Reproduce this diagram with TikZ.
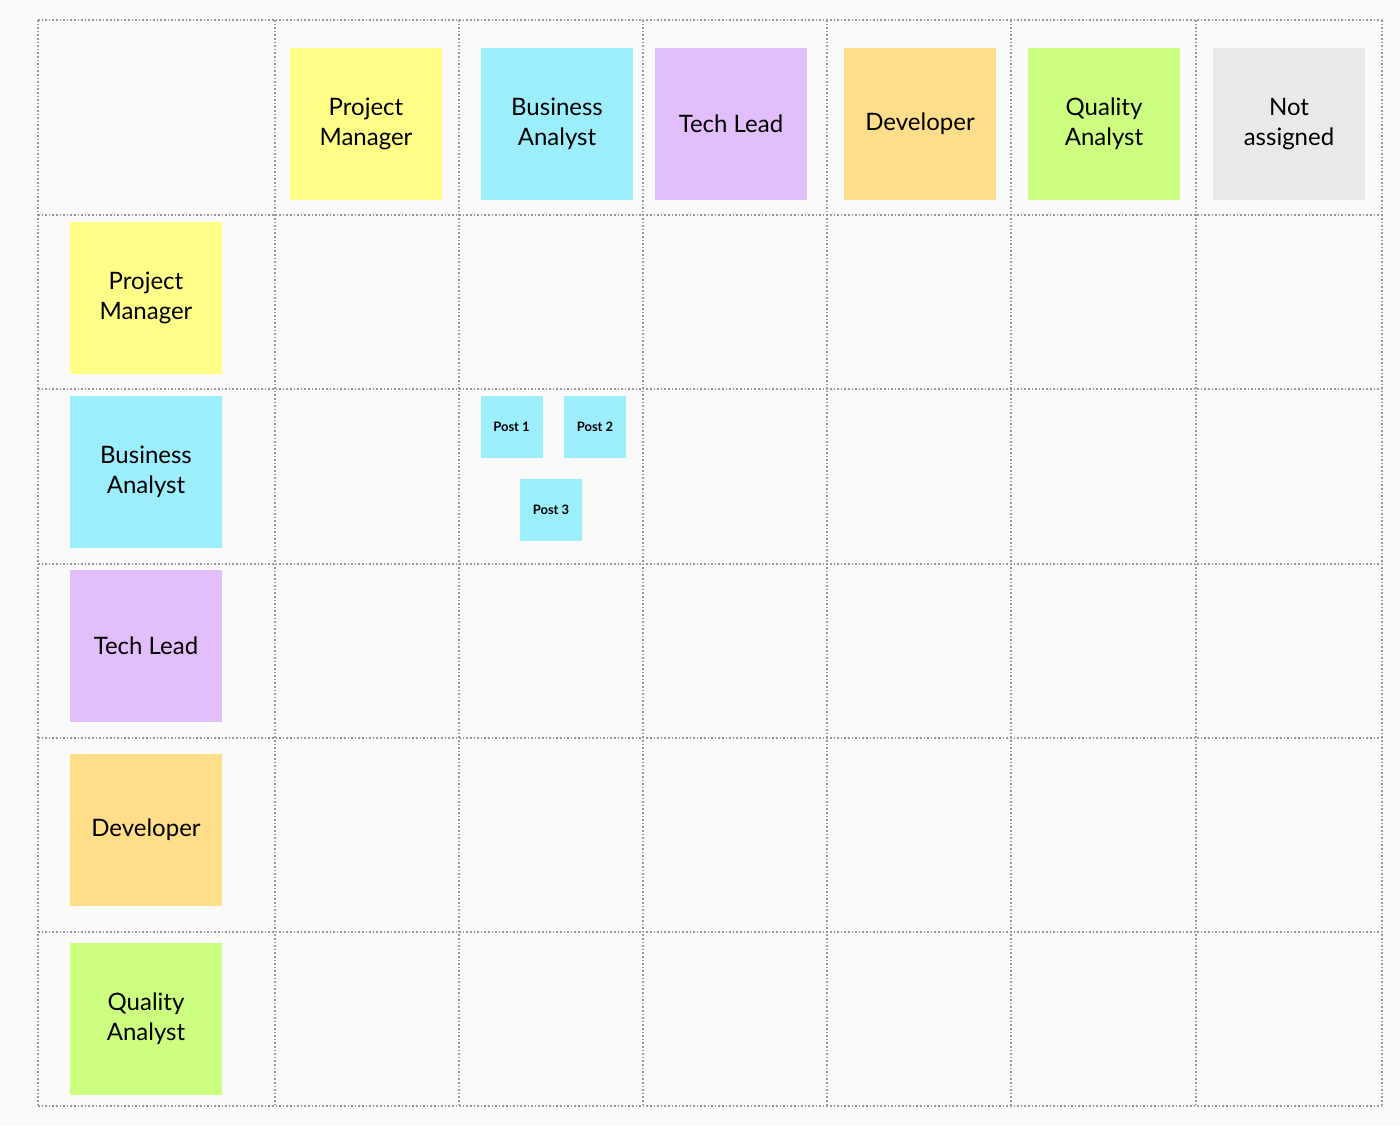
\documentclass[tikz,border=0pt]{standalone}
\usepackage{fontspec}
\setmainfont{Lato}
\usepackage{tikz}
\usetikzlibrary{positioning}
\definecolor{pmyellow}{HTML}{FFFF88}
\definecolor{bablue}{HTML}{9CEEFC}
\definecolor{tlpurple}{HTML}{E2BEFA}
\definecolor{devorange}{HTML}{FFDE8A}
\definecolor{qagreen}{HTML}{CCFF80}
\definecolor{nagray}{HTML}{E9E9E9}
\definecolor{boardbg}{HTML}{FAFAFA}

\begin{document}
\begin{tikzpicture}[x=0.5pt,y=-0.5pt]
\tikzstyle{gridline}=[draw=gray!80,line width=0.8pt,densely dotted]
\tikzstyle{sticky}=[minimum width=76pt,minimum height=76pt,inner sep=0,align=center,font=\fontsize{12}{15}\selectfont]
\tikzstyle{post}=[fill=bablue,minimum width=31pt,minimum height=31pt,inner sep=0,font=\bfseries\fontsize{6.5}{8}\selectfont]
\fill[boardbg] (0,0) rectangle (1400,1126);
\useasboundingbox (0,0) rectangle (1400,1126);
% board grid
\foreach \x in {38,275,459,643,827,1011,1196,1382}
  \draw[gridline] (\x,20) -- (\x,1106);
\foreach \y in {20,215,389,564,738,932,1106}
  \draw[gridline] (38,\y) -- (1382,\y);
% column headers
\node[sticky,fill=pmyellow] (cpm) at (366,124) {Project\\Manager};
\node[sticky,fill=bablue] (cba) at (557,124) {Business\\Analyst};
\node[sticky,fill=tlpurple] (ctl) at (731,124) {Tech Lead};
\node[sticky,fill=devorange] (cdev) at (920,124) {Developer};
\node[sticky,fill=qagreen] (cqa) at (1104,124) {Quality\\Analyst};
\node[sticky,fill=nagray] (cna) at (1289,124) {Not\\assigned};
% row headers
\node[sticky,fill=pmyellow] (rpm) at (146,298) {Project\\Manager};
\node[sticky,fill=bablue] (rba) at (146,472) {Business\\Analyst};
\node[sticky,fill=tlpurple] (rtl) at (146,646) {Tech Lead};
\node[sticky,fill=devorange] (rdev) at (146,830) {Developer};
\node[sticky,fill=qagreen] (rqa) at (146,1019) {Quality\\Analyst};
% posts
\node[post] (p1) at (511.5,426.5) {Post 1};
\node[post] (p2) at (595,426.5) {Post 2};
\node[post] (p3) at (551,509.5) {Post 3};
\end{tikzpicture}
\end{document}
